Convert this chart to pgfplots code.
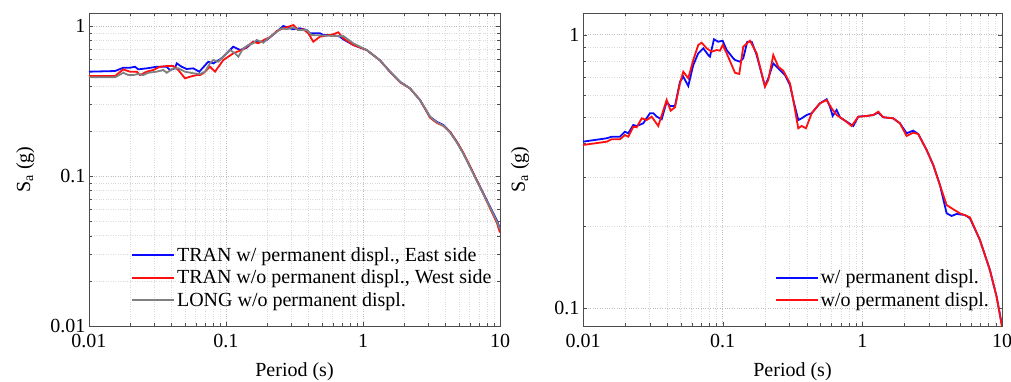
\documentclass[border=0pt]{standalone}
\usepackage{pgfplots}
\pgfplotsset{compat=1.18}
\usepackage{fontspec}
\setmainfont{Liberation Serif}
\definecolor{cblue}{RGB}{10,10,255}
\definecolor{cred}{RGB}{255,15,15}
\definecolor{cgray}{RGB}{128,128,128}
\pgfplotsset{
  every axis/.append style={
    scale only axis,
    xmin=0.01, xmax=10,
    xtick={0.01,0.1,1,10}, xticklabels={0.01,0.1,1,10},
    grid=both,
    major grid style={dotted, gray!50},
    minor grid style={dotted, gray!30},
    axis line style={gray!60!black, line width=0.8pt},
    tick style={gray!60!black},
    tick label style={font=\fontsize{20}{23}\selectfont},
    xticklabel style={yshift=-5pt},
    label style={font=\fontsize{20}{23}\selectfont},
    legend style={draw=none, fill=none, font=\fontsize{20}{23}\selectfont, cells={anchor=west}, row sep=3pt},
    legend image code/.code={\draw[##1, line width=1.8pt] (0pt,0pt) -- (42pt,0pt);},
    xlabel={Period (s)},
    ylabel={S\textsubscript{a} (g)},
    xlabel style={at={(axis description cs:0.5,-0.147)}, anchor=center},
  },
}
\begin{document}
\begin{tikzpicture}
\path[use as bounding box] (0,0) rectangle (1011pt,381pt);
\begin{loglogaxis}[at={(89pt,55pt)}, anchor=south west,
  width=411pt, height=313pt,
  ymin=0.01, ymax=1.221,
  ytick={0.01,0.1,1}, yticklabels={0.01,0.1,1},
  ylabel style={at={(axis description cs:-0.155,0.5)}, anchor=center},
  legend style={at={(axis description cs:0.095,0.045)}, anchor=south west},
]
\addplot[cblue, line width=1.8pt] coordinates {(0.01,0.496)(0.01549,0.501)(0.0178,0.527)(0.01993,0.527)(0.02167,0.535)(0.0229,0.514)(0.02638,0.522)(0.03121,0.535)(0.03691,0.535)(0.03901,0.509)(0.04243,0.522)(0.04366,0.564)(0.04749,0.535)(0.05166,0.517)(0.05771,0.522)(0.06386,0.496)(0.07428,0.578)(0.0808,0.564)(0.09303,0.609)(0.1131,0.728)(0.1266,0.692)(0.1416,0.717)(0.1582,0.786)(0.1873,0.786)(0.1982,0.807)(0.2345,0.916)(0.2619,1.0)(0.2932,0.965)(0.3099,0.951)(0.3468,0.965)(0.3882,0.940)(0.4103,0.894)(0.4854,0.894)(0.5131,0.871)(0.6071,0.871)(0.6795,0.849)(0.7181,0.815)(0.8497,0.747)(1.064,0.692)(1.331,0.59)(1.574,0.496)(1.862,0.425)(2.203,0.384)(2.607,0.321)(3.084,0.2485)(3.451,0.230)(3.856,0.219)(4.315,0.197)(4.830,0.169)(5.397,0.1417)(6.039,0.1153)(6.758,0.094)(7.551,0.0767)(8.453,0.0624)(9.461,0.0509)(10,0.0445)};
\addlegendentry{TRAN w/ permanent displ., East side}
\addplot[cred, line width=1.8pt] coordinates {(0.01,0.464)(0.01549,0.464)(0.0178,0.514)(0.01993,0.496)(0.02229,0.496)(0.02357,0.471)(0.02638,0.496)(0.02946,0.509)(0.03298,0.535)(0.03691,0.541)(0.04124,0.541)(0.04486,0.509)(0.05019,0.448)(0.05459,0.459)(0.06110,0.471)(0.06459,0.471)(0.06828,0.484)(0.07642,0.535)(0.08312,0.496)(0.09557,0.593)(0.1131,0.658)(0.1337,0.699)(0.1582,0.786)(0.1721,0.767)(0.1926,0.815)(0.2095,0.841)(0.2345,0.926)(0.2619,0.965)(0.3099,1.015)(0.3371,0.940)(0.3666,0.951)(0.3988,0.894)(0.4338,0.786)(0.4854,0.849)(0.6071,0.881)(0.6603,0.908)(0.7181,0.828)(0.8497,0.747)(1.064,0.692)(1.331,0.59)(1.574,0.496)(1.862,0.422)(2.203,0.384)(2.607,0.321)(3.084,0.2450)(3.451,0.226)(3.856,0.216)(4.315,0.197)(4.830,0.170)(5.397,0.1430)(6.039,0.1165)(6.758,0.094)(7.551,0.0760)(8.453,0.0610)(9.461,0.0490)(10,0.042)};
\addlegendentry{TRAN w/o permanent displ., West side}
\addplot[cgray, line width=1.8pt] coordinates {(0.01,0.455)(0.01549,0.455)(0.0178,0.488)(0.01936,0.471)(0.02105,0.471)(0.0229,0.479)(0.02490,0.471)(0.02709,0.488)(0.03121,0.496)(0.03486,0.509)(0.03691,0.488)(0.04124,0.522)(0.04486,0.522)(0.05019,0.496)(0.05771,0.484)(0.06459,0.479)(0.07025,0.496)(0.07642,0.564)(0.0808,0.593)(0.08786,0.578)(0.09303,0.609)(0.1070,0.692)(0.1163,0.658)(0.1230,0.624)(0.1337,0.710)(0.1455,0.747)(0.1582,0.767)(0.1675,0.807)(0.1873,0.774)(0.1982,0.815)(0.2345,0.916)(0.2550,0.965)(0.2774,0.951)(0.3099,0.980)(0.3371,0.940)(0.3882,0.940)(0.4222,0.871)(0.6071,0.858)(0.7181,0.858)(0.8497,0.767)(1.064,0.692)(1.331,0.59)(1.574,0.496)(1.862,0.425)(2.203,0.384)(2.607,0.321)(3.084,0.2485)(3.451,0.228)(3.856,0.217)(4.315,0.195)(4.830,0.168)(5.397,0.1410)(6.039,0.1150)(6.758,0.093)(7.551,0.0760)(8.453,0.0618)(9.461,0.0500)(10,0.0440)};
\addlegendentry{LONG w/o permanent displ.}
\end{loglogaxis}
\begin{loglogaxis}[at={(583pt,55pt)}, anchor=south west,
  width=419pt, height=313pt,
  ymin=0.0859, ymax=1.2006,
  ytick={0.1,1}, yticklabels={0.1,1},
  ylabel style={at={(axis description cs:-0.150,0.5)}, anchor=center},
  legend style={at={(axis description cs:0.45,0.045)}, anchor=south west},
]
\addplot[cblue, line width=1.8pt] coordinates {(0.01,0.4060)(0.01478,0.4178)(0.01605,0.4234)(0.01840,0.4234)(0.01998,0.4416)(0.02110,0.4357)(0.02291,0.4673)(0.02423,0.4634)(0.02702,0.4740)(0.03017,0.5160)(0.03186,0.5160)(0.03370,0.5012)(0.03659,0.4903)(0.03972,0.5687)(0.04196,0.5485)(0.04556,0.5485)(0.04946,0.6730)(0.05224,0.7021)(0.05672,0.6491)(0.06159,0.7747)(0.06688,0.8550)(0.07262,0.8916)(0.07886,0.8427)(0.08111,0.8308)(0.08664,0.9620)(0.09301,0.9428)(0.1,0.9507)(0.1068,0.8790)(0.1191,0.8196)(0.1225,0.8083)(0.1330,0.7967)(0.1404,0.8196)(0.1500,0.9428)(0.1613,0.9428)(0.1751,0.8427)(0.1953,0.6829)(0.2008,0.6491)(0.2121,0.6928)(0.2303,0.7858)(0.2500,0.7534)(0.2793,0.7120)(0.3033,0.6546)(0.3203,0.5770)(0.3477,0.4873)(0.3677,0.4943)(0.3993,0.5083)(0.4336,0.5160)(0.4972,0.5611)(0.5553,0.5804)(0.5862,0.5452)(0.6131,0.5042)(0.6546,0.5302)(0.6916,0.4987)(0.7721,0.4806)(0.8608,0.4634)(0.9347,0.5012)(1.0735,0.5042)(1.197,0.5083)(1.300,0.5184)(1.411,0.4987)(1.664,0.4943)(1.858,0.4740)(2.076,0.4357)(2.314,0.4455)(2.513,0.4331)(2.886,0.3785)(3.218,0.3336)(3.594,0.2818)(4.013,0.2221)(4.358,0.2171)(4.732,0.2208)(5.426,0.2189)(5.891,0.2129)(6.948,0.1774)(8.191,0.1377)(9.147,0.1100)(10,0.0860)};
\addlegendentry{w/ permanent displ.}
\addplot[cred, line width=1.8pt] coordinates {(0.01,0.3949)(0.01478,0.4060)(0.01605,0.4143)(0.01840,0.4143)(0.01998,0.4295)(0.02110,0.4234)(0.02291,0.4607)(0.02423,0.4583)(0.02632,0.4943)(0.02858,0.4873)(0.03103,0.5012)(0.03459,0.4634)(0.03972,0.5770)(0.04244,0.5271)(0.04556,0.5426)(0.04946,0.6640)(0.05224,0.7321)(0.05672,0.6928)(0.06159,0.8083)(0.06688,0.9169)(0.07074,0.9348)(0.07683,0.8916)(0.08344,0.8666)(0.09059,0.8790)(0.09565,0.8739)(0.1,0.9169)(0.1068,0.8550)(0.1225,0.7260)(0.1315,0.7180)(0.1404,0.9040)(0.1568,0.9507)(0.1751,0.8550)(0.2008,0.6453)(0.2121,0.6829)(0.2303,0.8427)(0.2500,0.7636)(0.2716,0.7383)(0.3033,0.6640)(0.3203,0.5770)(0.3477,0.4545)(0.3677,0.4634)(0.3948,0.4545)(0.4336,0.5160)(0.4972,0.5611)(0.5553,0.5770)(0.6030,0.5379)(0.6546,0.5083)(0.7509,0.4846)(0.8383,0.4634)(0.9347,0.5012)(1.0735,0.5042)(1.197,0.5083)(1.300,0.5228)(1.411,0.4987)(1.664,0.4943)(1.858,0.4740)(2.076,0.4259)(2.314,0.4380)(2.513,0.4331)(2.886,0.3785)(3.218,0.3336)(3.594,0.2818)(4.013,0.2381)(4.474,0.2297)(4.995,0.2221)(5.891,0.2147)(6.948,0.1774)(8.191,0.1377)(9.147,0.1100)(10,0.0855)};
\addlegendentry{w/o permanent displ.}
\end{loglogaxis}
\end{tikzpicture}
\end{document}
